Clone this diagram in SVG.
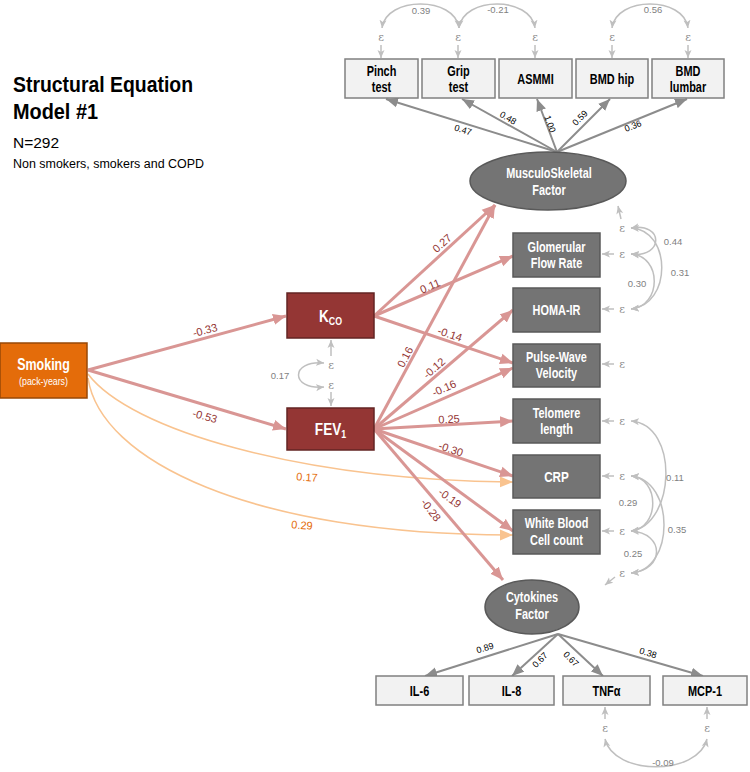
<svg xmlns="http://www.w3.org/2000/svg" width="750" height="772" viewBox="0 0 750 772">
<defs>
<style>
.t{font-family:"Liberation Sans",Arial,sans-serif;font-weight:bold;text-anchor:middle;font-size:14px}
.w{fill:#fff}
.lb{fill:#f2f2f2;stroke:#808080;stroke-width:1.5}
.gb{fill:#747474;stroke:#595959;stroke-width:1.5}
.rb{fill:#943634;stroke:#632523;stroke-width:1.5}
.red{stroke:#d99694;stroke-width:3;fill:none;marker-end:url(#ar)}
.org{stroke:#f9c38f;stroke-width:1.6;fill:none;marker-end:url(#ao)}
.ld{stroke:#8c8c8c;stroke-width:2;fill:none;marker-end:url(#ag)}
.ep{stroke:#bfbfbf;stroke-width:1.5;fill:none;marker-end:url(#al)}
.cv{stroke:#bfbfbf;stroke-width:1.5;fill:none;marker-end:url(#al);marker-start:url(#al)}
.eps{font-family:"DejaVu Serif","Liberation Serif",serif;font-size:11px;fill:#8c8c8c;text-anchor:middle}
.rl{font-family:"Liberation Sans",Arial,sans-serif;font-size:11px;fill:#943634;text-anchor:middle}
.ol{font-family:"Liberation Sans",Arial,sans-serif;font-size:11px;fill:#e46c0a;text-anchor:middle}
.kl{font-family:"Liberation Sans",Arial,sans-serif;font-size:9px;fill:#000;text-anchor:middle}
.cl{font-family:"Liberation Sans",Arial,sans-serif;font-size:9.5px;fill:#7f7f7f;text-anchor:middle}
</style>
<marker id="ar" markerUnits="userSpaceOnUse" markerWidth="14" markerHeight="12" viewBox="0 -6 14 12" refX="13" refY="0" orient="auto"><path d="M0,-5.5 L13,0 L0,5.5 z" fill="#d99694"/></marker>
<marker id="ao" markerUnits="userSpaceOnUse" markerWidth="14" markerHeight="12" viewBox="0 -6 14 12" refX="13" refY="0" orient="auto"><path d="M0,-5.5 L13,0 L0,5.5 z" fill="#f9c38f"/></marker>
<marker id="ag" markerUnits="userSpaceOnUse" markerWidth="13" markerHeight="11" viewBox="0 -5.5 13 11" refX="12" refY="0" orient="auto"><path d="M0,-5 L12,0 L0,5 z" fill="#8c8c8c"/></marker>
<marker id="al" markerUnits="userSpaceOnUse" markerWidth="9" markerHeight="8" viewBox="0 -4 9 8" refX="8" refY="0" orient="auto-start-reverse"><path d="M0,-3.5 L8,0 L0,3.5 L2,0 z" fill="#bfbfbf"/></marker>
</defs>

<g id="title" font-family="'Liberation Sans',Arial,sans-serif">
<text x="13" y="92" font-weight="bold" font-size="22" textLength="180" lengthAdjust="spacingAndGlyphs">Structural Equation</text>
<text x="13" y="119" font-weight="bold" font-size="22" textLength="85" lengthAdjust="spacingAndGlyphs">Model #1</text>
<text x="13" y="148" font-size="15.5">N=292</text>
<text x="13" y="168" font-size="12.5" textLength="191" lengthAdjust="spacingAndGlyphs">Non smokers, smokers and COPD</text>
</g>

<g id="connectors">
<path class="ld" d="M557,152 L386,99"/>
<path class="ld" d="M557,152 L462,99"/>
<path class="ld" d="M557,152 L537,99"/>
<path class="ld" d="M557,152 L610,99"/>
<path class="ld" d="M557,152 L687,99"/>
<path class="ld" d="M558,634 L425,676"/>
<path class="ld" d="M558,634 L512,676"/>
<path class="ld" d="M558,634 L603,676"/>
<path class="ld" d="M558,634 L703,676"/>
<path class="org" d="M88,374 C130,430 300,480 513,482"/>
<path class="org" d="M88,378 C100,460 250,535 513,535"/>
<path class="red" d="M88,370 L286,316"/>
<path class="red" d="M88,370 L286,429"/>
<path class="red" d="M374,316 L495,205"/>
<path class="red" d="M374,316 L513,256"/>
<path class="red" d="M374,316 L513,363"/>
<path class="red" d="M374,429 L495,205"/>
<path class="red" d="M374,429 L513,310"/>
<path class="red" d="M374,429 L513,368"/>
<path class="red" d="M374,429 L513,421"/>
<path class="red" d="M374,429 L513,476"/>
<path class="red" d="M374,429 L513,531"/>
<path class="red" d="M374,429 L503,580"/>
<path class="ep" d="M381,45 L381,58"/>
<path class="ep" d="M458,45 L458,58"/>
<path class="ep" d="M535,45 L535,58"/>
<path class="ep" d="M612,45 L612,58"/>
<path class="ep" d="M688,45 L688,58"/>
<path class="cv" d="M382,28 C386,-4 455,-4 459,28"/>
<path class="cv" d="M459,28 C463,-4 531,-4 535,28"/>
<path class="cv" d="M612,28 C616,-4 684,-4 688,28"/>
<path class="ep" d="M331,356 L331,340"/>
<path class="ep" d="M331,392 L331,406"/>
<path class="cv" d="M324,363 C290,360 290,390 324,387"/>
<path class="ep" d="M621,219 L618,206"/>
<path class="ep" d="M614,254 L602,254"/>
<path class="ep" d="M614,309 L602,309"/>
<path class="ep" d="M614,364 L602,364"/>
<path class="ep" d="M614,421 L602,421"/>
<path class="ep" d="M614,476 L602,476"/>
<path class="ep" d="M614,531 L602,531"/>
<path class="ep" d="M615,577 L605,585"/>
<path class="cv" d="M631,228 C664,222 664,258 631,254"/>
<path class="cv" d="M631,228 C672,230 672,305 631,309"/>
<path class="cv" d="M631,254 C662,256 662,306 631,309"/>
<path class="cv" d="M631,421 C680,425 675,525 631,531"/>
<path class="cv" d="M631,476 C660,478 660,528 631,531"/>
<path class="cv" d="M631,476 C675,480 675,570 631,573"/>
<path class="cv" d="M631,531 C665,533 665,570 631,573"/>
<path class="ep" d="M605,719 L605,707"/>
<path class="ep" d="M707,719 L707,707"/>
<path class="cv" d="M605,739 C614,776 698,776 707,739"/>
</g>

<g id="labels">
<text class="kl" transform="translate(463,130) rotate(17)" y="3">0.47</text>
<text class="kl" transform="translate(508,118) rotate(30)" y="3">0.48</text>
<text class="kl" transform="translate(550,124) rotate(70)" y="3">1.00</text>
<text class="kl" transform="translate(580,118) rotate(-45)" y="3">0.59</text>
<text class="kl" transform="translate(633,126) rotate(-22)" y="3">0.36</text>
<text class="kl" transform="translate(485,648) rotate(-17)" y="3">0.89</text>
<text class="kl" transform="translate(540,660) rotate(-45)" y="3">0.67</text>
<text class="kl" transform="translate(571,659) rotate(45)" y="3">0.67</text>
<text class="kl" transform="translate(648,653) rotate(17)" y="3">0.38</text>
<text class="rl" transform="translate(205,330) rotate(-15)" y="4">-0.33</text>
<text class="rl" transform="translate(205,416) rotate(16)" y="4">-0.53</text>
<text class="rl" transform="translate(442,243) rotate(-42)" y="4">0.27</text>
<text class="rl" transform="translate(430,286) rotate(-23)" y="4">0.11</text>
<text class="rl" transform="translate(450,334) rotate(19)" y="4">-0.14</text>
<text class="rl" transform="translate(405,357) rotate(-62)" y="4">0.16</text>
<text class="rl" transform="translate(434,368) rotate(-41)" y="4">-0.12</text>
<text class="rl" transform="translate(444,388) rotate(-24)" y="4">-0.16</text>
<text class="rl" transform="translate(449,419) rotate(-3)" y="4">0.25</text>
<text class="rl" transform="translate(451,449) rotate(19)" y="4">-0.30</text>
<text class="rl" transform="translate(450,498) rotate(36)" y="4">-0.19</text>
<text class="rl" transform="translate(431,510) rotate(52)" y="4">-0.28</text>
<text class="ol" transform="translate(307,477) rotate(4)" y="4">0.17</text>
<text class="ol" transform="translate(302,525) rotate(4)" y="4">0.29</text>
<text class="cl" x="421" y="14">0.39</text>
<text class="cl" x="498" y="13">-0.21</text>
<text class="cl" x="653" y="13">0.56</text>
<text class="cl" x="280" y="379" font-size="7">0.17</text>
<text class="cl" x="673" y="245">0.44</text>
<text class="cl" x="680" y="276">0.31</text>
<text class="cl" x="637" y="287">0.30</text>
<text class="cl" x="675" y="481">0.11</text>
<text class="cl" x="628" y="506">0.29</text>
<text class="cl" x="677" y="533">0.35</text>
<text class="cl" x="633" y="557">0.25</text>
<text class="cl" x="663" y="766">-0.09</text>
</g>

<g id="epsilons">
<text class="eps" x="381" y="41">ε</text>
<text class="eps" x="458" y="41">ε</text>
<text class="eps" x="535" y="41">ε</text>
<text class="eps" x="612" y="41">ε</text>
<text class="eps" x="688" y="41">ε</text>
<text class="eps" x="331" y="369">ε</text>
<text class="eps" x="331" y="389">ε</text>
<text class="eps" x="622" y="232">ε</text>
<text class="eps" x="622" y="258">ε</text>
<text class="eps" x="622" y="313">ε</text>
<text class="eps" x="622" y="368">ε</text>
<text class="eps" x="622" y="425">ε</text>
<text class="eps" x="622" y="480">ε</text>
<text class="eps" x="622" y="535">ε</text>
<text class="eps" x="622" y="577">ε</text>
<text class="eps" x="605" y="732">ε</text>
<text class="eps" x="707" y="732">ε</text>
</g>

<g id="pinch"><rect class="lb" x="345" y="59" width="73" height="39"/><text class="t" transform="matrix(0.78 0 0 1 381.5 76)">Pinch</text><text class="t" transform="matrix(0.78 0 0 1 381.5 92)">test</text></g>
<g id="grip"><rect class="lb" x="422" y="59" width="73" height="39"/><text class="t" transform="matrix(0.78 0 0 1 458.5 76)">Grip</text><text class="t" transform="matrix(0.78 0 0 1 458.5 92)">test</text></g>
<g id="asmmi"><rect class="lb" x="499" y="59" width="73" height="39"/><text class="t" transform="matrix(0.78 0 0 1 535.5 84)">ASMMI</text></g>
<g id="bmdhip"><rect class="lb" x="576" y="59" width="72" height="39"/><text class="t" transform="matrix(0.78 0 0 1 612 84)">BMD hip</text></g>
<g id="bmdlumbar"><rect class="lb" x="652" y="59" width="72" height="39"/><text class="t" transform="matrix(0.78 0 0 1 688 76)">BMD</text><text class="t" transform="matrix(0.78 0 0 1 688 92)">lumbar</text></g>

<g id="musculo"><ellipse cx="548" cy="181" rx="78" ry="29" fill="#747474" stroke="#595959" stroke-width="1.5"/><text class="t w" transform="matrix(0.78 0 0 1 549 178)">MusculoSkeletal</text><text class="t w" transform="matrix(0.78 0 0 1 549 195)">Factor</text></g>

<g id="smoking"><rect x="0" y="343" width="87" height="55" fill="#e46c0a" stroke="#984807" stroke-width="1.5"/><text class="t w" transform="matrix(0.78 0 0 1 43.5 370)" style="font-size:16px">Smoking</text><text class="t w" transform="matrix(0.8 0 0 1 43.5 385)" style="font-size:11px;font-weight:normal">(pack-years)</text></g>

<g id="kco"><rect class="rb" x="287" y="293" width="87" height="45"/><text class="t w" transform="matrix(0.8 0 0 1 330.5 322)" style="font-size:17px">K<tspan style="font-size:11px" dy="3">CO</tspan></text></g>
<g id="fev1"><rect class="rb" x="287" y="408" width="87" height="42"/><text class="t w" transform="matrix(0.8 0 0 1 330.5 435)" style="font-size:17px">FEV<tspan style="font-size:11px" dy="3">1</tspan></text></g>

<g id="glomerular"><rect class="gb" x="513" y="233" width="87" height="44"/><text class="t w" transform="matrix(0.78 0 0 1 556.5 252)">Glomerular</text><text class="t w" transform="matrix(0.78 0 0 1 556.5 268)">Flow Rate</text></g>
<g id="homa"><rect class="gb" x="513" y="288" width="87" height="44"/><text class="t w" transform="matrix(0.78 0 0 1 556.5 315)">HOMA-IR</text></g>
<g id="pwv"><rect class="gb" x="513" y="344" width="87" height="43"/><text class="t w" transform="matrix(0.78 0 0 1 556.5 362)">Pulse-Wave</text><text class="t w" transform="matrix(0.78 0 0 1 556.5 378)">Velocity</text></g>
<g id="telomere"><rect class="gb" x="513" y="399" width="87" height="44"/><text class="t w" transform="matrix(0.78 0 0 1 556.5 418)">Telomere</text><text class="t w" transform="matrix(0.78 0 0 1 556.5 434)">length</text></g>
<g id="crp"><rect class="gb" x="513" y="455" width="87" height="43"/><text class="t w" transform="matrix(0.78 0 0 1 556.5 482)" style="font-size:15px">CRP</text></g>
<g id="wbc"><rect class="gb" x="513" y="510" width="87" height="44"/><text class="t w" transform="matrix(0.78 0 0 1 556.5 528)">White Blood</text><text class="t w" transform="matrix(0.78 0 0 1 556.5 545)">Cell count</text></g>

<g id="cytokines"><ellipse cx="532" cy="607" rx="47" ry="27" fill="#747474" stroke="#595959" stroke-width="1.5"/><text class="t w" transform="matrix(0.78 0 0 1 532 602)">Cytokines</text><text class="t w" transform="matrix(0.78 0 0 1 532 619)">Factor</text></g>

<g id="il6"><rect class="lb" x="376" y="676" width="87" height="29"/><text class="t" transform="matrix(0.78 0 0 1 419.5 696)">IL-6</text></g>
<g id="il8"><rect class="lb" x="469" y="676" width="85" height="29"/><text class="t" transform="matrix(0.78 0 0 1 511.5 696)">IL-8</text></g>
<g id="tnfa"><rect class="lb" x="563" y="676" width="87" height="29"/><text class="t" transform="matrix(0.78 0 0 1 606.5 696)">TNFα</text></g>
<g id="mcp1"><rect class="lb" x="663" y="676" width="84" height="29"/><text class="t" transform="matrix(0.78 0 0 1 705 696)">MCP-1</text></g>
</svg>
